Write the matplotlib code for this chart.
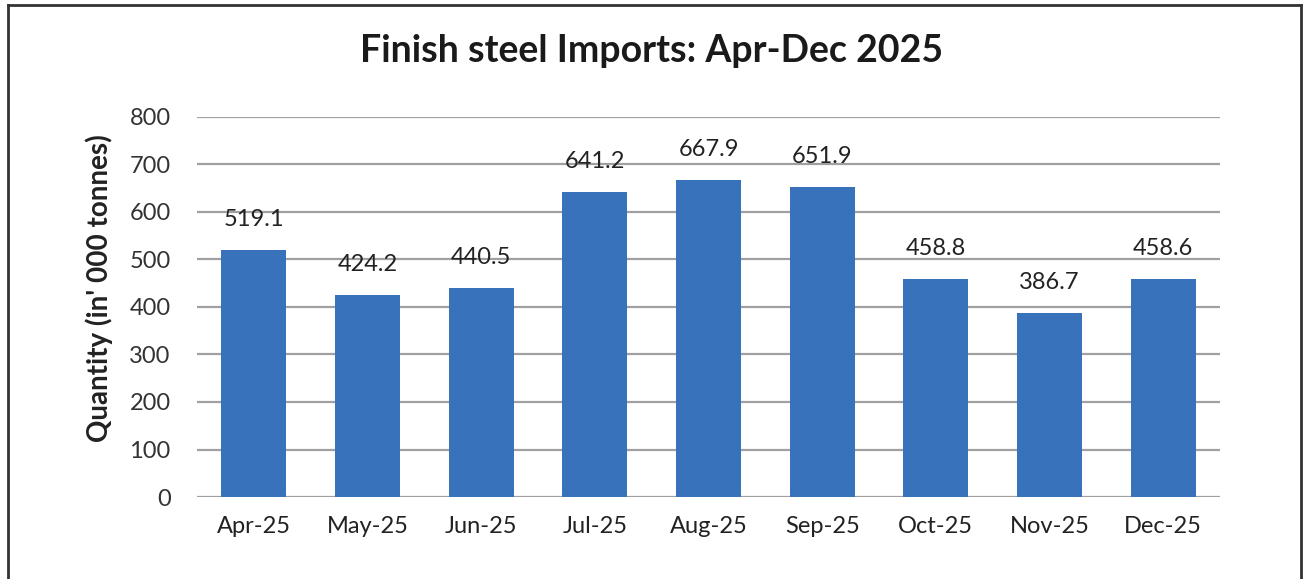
import matplotlib
matplotlib.use("Agg")
import matplotlib.pyplot as plt
from matplotlib.lines import Line2D

months = ["Apr-25", "May-25", "Jun-25", "Jul-25", "Aug-25", "Sep-25", "Oct-25", "Nov-25", "Dec-25"]
imports = [519.1, 424.2, 440.5, 641.2, 667.9, 651.9, 458.8, 386.7, 458.6]
yticks = [0, 100, 200, 300, 400, 500, 600, 700, 800]

plt.rcParams['font.family'] = ['Lato', 'DejaVu Sans']

fig = plt.figure(figsize=(13.03, 5.79), dpi=100)
ax = fig.add_axes([0.1512, 0.1416, 0.7851, 0.6564])

x = list(range(len(months)))
bars = ax.bar(x, imports, width=0.57, color="#3872BA", zorder=3)

for xi, v in zip(x, imports):
    ax.annotate("%.1f" % v, xy=(xi, v), xytext=(0, 22), textcoords="offset points",
                ha="center", va="center", fontsize=17, color="#222222")

ax.set_ylim(0, 800)
ax.set_xlim(-0.5, len(months) - 0.5)
ax.set_yticks(yticks)
ax.set_yticklabels([str(t) for t in yticks], fontsize=17, color="#333333")
ax.set_xticks(x)
ax.set_xticklabels(months, fontsize=17, color="#222222")
ax.tick_params(axis="both", length=0)
ax.tick_params(axis="y", pad=19)
ax.tick_params(axis="x", pad=14)
ax.grid(axis="y", color="#A0A0A0", linewidth=1.6, zorder=0)
for s in ax.spines.values():
    s.set_visible(False)

ax.set_ylabel("Quantity (in' 000 tonnes)", fontsize=20, fontweight="bold", color="#222222")
ax.yaxis.set_label_coords(-0.082, 0.55)
fig.text(0.5, 0.912, "Finish steel Imports: Apr-Dec 2025", ha="center", va="center",
         fontsize=27, fontweight="bold", color="#1a1a1a")

# frame around the picture (open at bottom)
lx, rx, ty = 8 / 1303, 1301 / 1303, 1 - 5 / 579
for xs, ys in [([lx, lx], [0, ty]), ([lx, rx], [ty, ty]), ([rx, rx], [ty, 0])]:
    fig.add_artist(Line2D(xs, ys, transform=fig.transFigure, color="#333333", linewidth=2))

fig.savefig("out.png", dpi=100)
